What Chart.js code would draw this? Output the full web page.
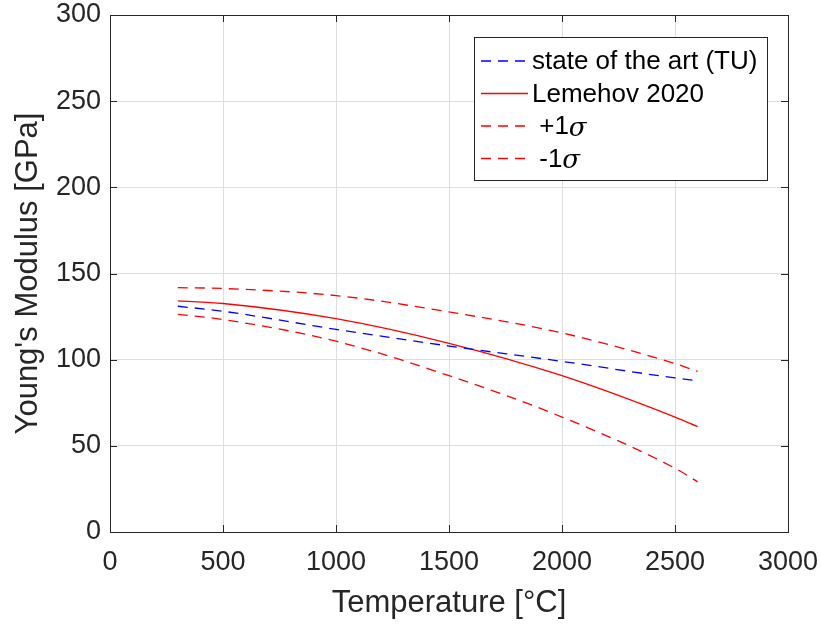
<!DOCTYPE html>
<html>
<head>
<meta charset="utf-8">
<script src="https://cdn.jsdelivr.net/npm/chart.js@4/dist/chart.umd.min.js"></script>
<style>
  html, body { margin: 0; padding: 0; background: #fff; }
  #wrap { width: 821px; height: 626px; }
</style>
</head>
<body>
<div id="wrap"><canvas id="c"></canvas></div>
<script>
const temps = [300, 500, 1000, 1500, 2000, 2500, 2600];
const stateOfArt = [131.0, 128.1, 117.6, 107.9, 99.0, 89.4, 87.8];
const lemehov = [134.1, 132.6, 123.8, 109.5, 90.7, 66.7, 61.2];
const plusSigma = [141.8, 141.3, 137.2, 127.7, 115.5, 97.7, 93.2];
const minusSigma = [126.3, 123.3, 110.7, 90.7, 66.7, 37.0, 29.1];
const xTicks = [0, 500, 1000, 1500, 2000, 2500, 3000];
const yTicks = [0, 50, 100, 150, 200, 250, 300];

const FONT = '"Liberation Sans", Arial, sans-serif';
const AX = '#262626';

const pts = arr => arr.map((v, i) => ({ x: temps[i], y: v }));

const legendItems = [
    { label: 'state of the art (TU)', color: '#0000ff', dash: [10, 7] },
    { label: 'Lemehov 2020', color: '#ff0000', dash: [] },
    { label: ' +1', sigma: true, color: '#ff0000', dash: [10, 7] },
    { label: ' -1', sigma: true, color: '#ff0000', dash: [10, 7] }
];

// box, inward ticks and legend like the original figure
const boxPlugin = {
    id: 'boxPlugin',
    afterDraw(chart) {
        const { ctx, chartArea: a, scales } = chart;
        ctx.save();
        ctx.strokeStyle = AX;
        ctx.lineWidth = 1;
        ctx.strokeRect(Math.round(a.left) + 0.5, Math.round(a.top) + 0.5,
            Math.round(a.right - a.left), Math.round(a.bottom - a.top));
        ctx.beginPath();
        xTicks.forEach(t => {
            const x = Math.round(scales.x.getPixelForValue(t)) + 0.5;
            ctx.moveTo(x, a.bottom); ctx.lineTo(x, a.bottom - 7);
            ctx.moveTo(x, a.top); ctx.lineTo(x, a.top + 7);
        });
        yTicks.forEach(t => {
            const y = Math.round(scales.y.getPixelForValue(t)) + 0.5;
            ctx.moveTo(a.left, y); ctx.lineTo(a.left + 7, y);
            ctx.moveTo(a.right, y); ctx.lineTo(a.right - 7, y);
        });
        ctx.stroke();

        // legend
        const lx = 474, ly = 37, lw = 293, lh = 143;
        ctx.fillStyle = '#fff';
        ctx.fillRect(lx, ly, lw, lh);
        ctx.strokeStyle = AX;
        ctx.strokeRect(lx + 0.5, ly + 0.5, lw, lh);
        legendItems.forEach((it, i) => {
            const y = 61 + i * 32.5;
            ctx.strokeStyle = it.color;
            ctx.lineWidth = 1.3;
            ctx.setLineDash(it.dash);
            ctx.beginPath();
            ctx.moveTo(481, y); ctx.lineTo(528, y);
            ctx.stroke();
            ctx.setLineDash([]);
            ctx.fillStyle = '#000';
            ctx.textBaseline = 'middle';
            ctx.font = '26px ' + FONT;
            ctx.fillText(it.label, 532, y + 1);
            if (it.sigma) {
                const w = ctx.measureText(it.label).width;
                ctx.font = 'italic 26px "DejaVu Serif", serif';
                ctx.fillText('\u03c3', 532 + w, y + 3);
            }
        });
        ctx.restore();
    }
};

const ds = (label, data, color, dash) => ({
    label, data: pts(data), borderColor: color, borderWidth: 1.3,
    borderDash: dash, pointRadius: 0, fill: false, cubicInterpolationMode: 'monotone'
});

new Chart(document.getElementById('c'), {
    type: 'line',
    data: {
        datasets: [
            ds('state of the art (TU)', stateOfArt, '#0000ff', [10, 7]),
            ds('Lemehov 2020', lemehov, '#ff0000', []),
            ds('+1σ', plusSigma, '#ff0000', [10, 7]),
            ds('-1σ', minusSigma, '#ff0000', [10, 7])
        ]
    },
    options: {
        responsive: true,
        maintainAspectRatio: false,
        animation: false,
        layout: { padding: { left: 0, right: 33, top: 15, bottom: 0 } },
        plugins: { legend: { display: false }, tooltip: { enabled: false } },
        scales: {
            x: {
                type: 'linear', min: 0, max: 3000,
                afterBuildTicks: s => { s.ticks = xTicks.map(v => ({ value: v })); },
                afterFit: s => { s.height = 94; s.paddingLeft = 0; s.paddingRight = 0; },
                grid: { color: '#dedede', lineWidth: 1, drawTicks: false },
                border: { display: false },
                ticks: { color: AX, font: { family: FONT, size: 27 }, padding: 14, maxRotation: 0,
                    callback: v => String(v) },
                title: { display: true, text: 'Temperature [°C]', color: AX,
                    font: { family: FONT, size: 31 }, padding: { top: 0, bottom: 4 } }
            },
            y: {
                min: 0, max: 300,
                afterBuildTicks: s => { s.ticks = yTicks.map(v => ({ value: v })); },
                afterFit: s => { s.width = 110; s.paddingTop = 0; s.paddingBottom = 0; },
                grid: { color: '#dedede', lineWidth: 1, drawTicks: false },
                border: { display: false },
                ticks: { color: AX, font: { family: FONT, size: 27 }, padding: 9,
                    callback: v => String(v) },
                title: { display: true, text: "Young's Modulus [GPa]", color: AX,
                    font: { family: FONT, size: 31 }, padding: { top: 10, bottom: 0 } }
            }
        }
    },
    plugins: [boxPlugin]
});
</script>
</body>
</html>
